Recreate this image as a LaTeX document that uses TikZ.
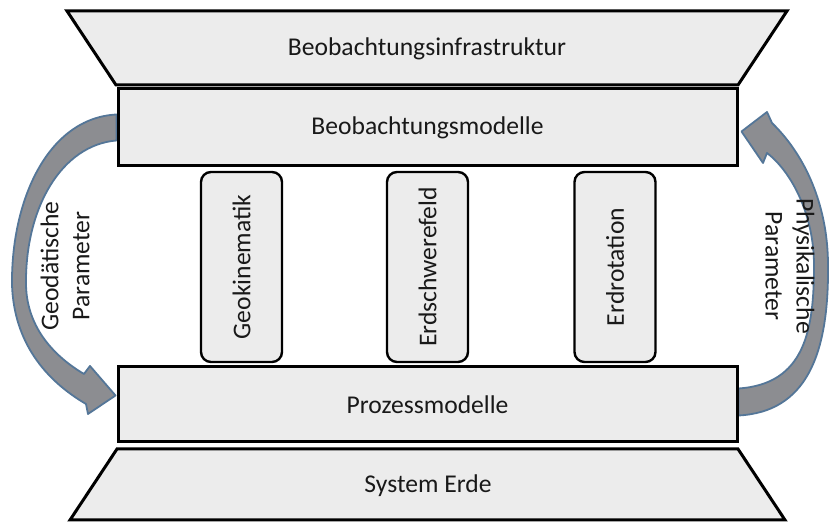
\documentclass[tikz,border=0pt]{standalone}
\usepackage{fontspec}
\setmainfont{Carlito}
\usepackage{tikz}
\usetikzlibrary{calc,backgrounds}
\definecolor{boxgray}{RGB}{236,236,236}
\definecolor{flowgray}{RGB}{140,141,145}
\definecolor{flowedge}{RGB}{84,118,152}
\tikzstyle{modelbox}=[draw,line width=1.5pt,fill=boxgray,inner sep=0pt,minimum width=309.5pt]
\tikzstyle{pillar}=[draw,line width=1.2pt,fill=boxgray,rounded corners=5pt,inner sep=0pt,rotate=90,minimum width=95pt,minimum height=40.5pt]
\tikzstyle{bridge}=[draw,line width=1.5pt,fill=boxgray,line join=miter]
\tikzstyle{flowarrow}=[draw=flowedge,line width=0.9pt,fill=flowgray,line join=round]
\tikzstyle{sidelabel}=[align=center,inner sep=0pt]

\begin{document}
\begin{tikzpicture}[x=0.5pt,y=-0.5pt,font=\fontsize{12.8}{15.5}\selectfont,text=black!90]
    \useasboundingbox (0,0) rectangle (830,522);
    % Infrastruktur oben, Erde unten
    \path[bridge] (67,11) -- (787,11) -- (738,85) -- (116,85) -- cycle;
    \node (infra) at (427,49) {Beobachtungsinfrastruktur};
    \path[bridge] (117,449) -- (738,449) -- (785,520) -- (70,520) -- cycle;
    \node (erde) at (428,486) {System Erde};
    % Modellebenen
    \node[modelbox,minimum height=38.5pt] (obs) at (427.5,127.5) {Beobachtungsmodelle};
    \node[modelbox,minimum height=37.5pt] (proc) at (427.5,404.5) {Prozessmodelle};
    % drei Säulen
    \node[pillar] (kin) at (241.5,267) {Geokinematik};
    \node[pillar] (grav) at (427.5,267) {Erdschwerefeld};
    \node[pillar] (rot) at (615,267) {Erdrotation};
    % Rückkopplung links und rechts
    \coordinate (geoA) at ($(obs.west)+(0,-13)$);
    \coordinate (geoB) at ($(obs.west)+(0,13)$);
    \coordinate (geoTip) at ($(proc.west)+(-1,-9)$);
    \coordinate (phyA) at ($(proc.east)+(0,11)$);
    \coordinate (phyB) at ($(proc.east)+(0,-16)$);
    \coordinate (phyTip) at ($(obs.east)+(3,4)$);
    \begin{scope}[on background layer]
      \path[flowarrow] (geoA) .. controls (48,118) and (11,200) .. (12,285)
        .. controls (14,342) and (45,380) .. (86,404) -- (88,414) -- (geoTip)
        -- (90,366) -- (84,374) .. controls (57,358) and (27,330) .. (26,285)
        .. controls (25,207) and (62,145) .. (geoB) -- cycle;
      \path[flowarrow] (phyA) .. controls (806,412) and (829,355) .. (828,265)
        .. controls (828,213) and (810,160) .. (772,123) -- (767,112) -- (phyTip)
        -- (763,163) -- (767,153) .. controls (793,173) and (814,217) .. (814,265)
        .. controls (814,330) and (805,384) .. (phyB) -- cycle;
    \end{scope}
    \node[sidelabel,rotate=90] (geolbl) at (65,266) {Geodätische\\Parameter};
    \node[sidelabel,rotate=-90] (phylbl) at (790,266) {Physikalische\\Parameter};
  \end{tikzpicture}
\end{document}
